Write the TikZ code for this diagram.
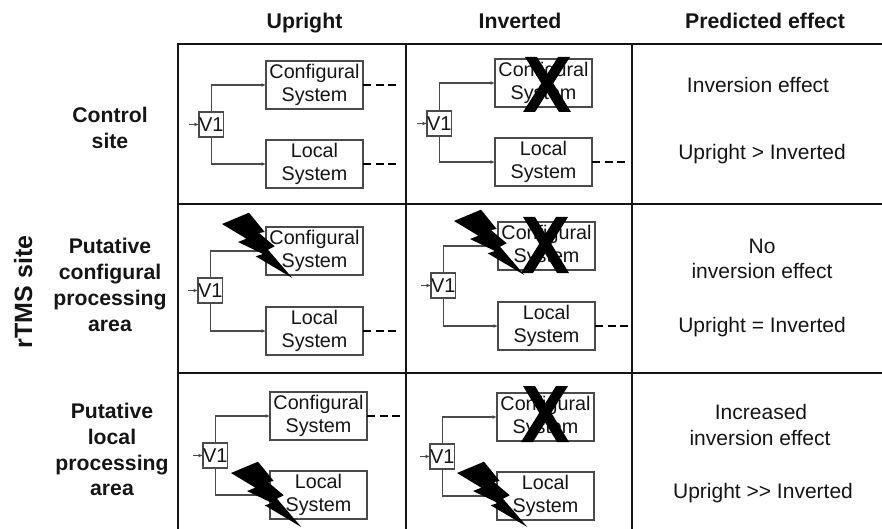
\documentclass[tikz,border=0pt]{standalone}
\usepackage{fontspec}
\setmainfont[Ligatures={NoCommon}]{Liberation Sans}
\definecolor{inkc}{HTML}{151515}
\definecolor{boxc}{HTML}{4A4A4A}
\usetikzlibrary{arrows.meta}
\tikzset{
  grid line/.style={draw=inkc,line width=2pt},
  sysbox/.style={draw=boxc,line width=1.2pt,fill=white,anchor=north west,minimum width=97pt,minimum height=48pt,inner sep=0pt,outer sep=0pt,align=center,text=inkc,font=\fontsize{19.75}{23}\selectfont},
  vbox/.style={draw=boxc,line width=1.2pt,fill=white,anchor=north west,minimum width=23pt,minimum height=25pt,inner sep=0pt,outer sep=0pt,text=inkc,font=\fontsize{20}{22}\selectfont},
  link/.style={draw=boxc,line width=1.1pt,-{Latex[length=4.5pt,width=4pt]}},
  dashline/.style={draw=black,line width=2.3pt,dash pattern=on 8pt off 4.5pt},
  head/.style={anchor=base,text=inkc,font=\bfseries\fontsize{21.3}{24}\selectfont},
  rowlab/.style={anchor=base,text=inkc,font=\bfseries\fontsize{21.2}{24}\selectfont},
  effect/.style={anchor=base,text=inkc,font=\fontsize{21}{24}\selectfont},
  marking/.style={fill=black,draw=none}
}
% id, V1 x, V1 y, system x, configural top, local top
\newcommand{\panel}[6]{
  \node[vbox] (#1v) at (#2,#3) {V1};
  \node[sysbox] (#1c) at (#4,#5) {Configural\\System};
  \node[sysbox] (#1l) at (#4,#6) {Local\\System};
  \coordinate (#1i) at ([xshift=-10pt]#1v.west);
  \coordinate (#1cd) at ([xshift=34pt]#1c.east);
  \coordinate (#1ld) at ([xshift=34pt]#1l.east);
  \draw[link] (#1i) -- (#1v.west);
  \draw[link] (#1v.north) |- (#1c.west);
  \draw[link] (#1v.south) |- (#1l.west);
}
\newcommand{\bolt}[2]{
  \fill[marking,shift={(#1,#2)}] (0,0) -- (27,-11.3) -- (42.7,8) -- (37,9) -- (52.7,22.3) -- (46,25.7) -- (70.3,54) -- (33.7,32.3) -- (41,30) -- (16,18) -- (24.3,14.7) -- cycle;
}
% centre x, top y, bottom y
\newcommand{\cross}[3]{
  \fill[marking] (#1-22,#2) -- (#1-10,#2) -- (#1+24,#3) -- (#1+12,#3) -- cycle;
  \fill[marking] (#1+23,#2) -- (#1+11,#2) -- (#1-24,#3) -- (#1-12,#3) -- cycle;
}
\begin{document}
\begin{tikzpicture}[x=1pt,y=-1pt]
\useasboundingbox (0,0) rectangle (882,529);
% grid
\draw[grid line] (177,44) -- (882,44);
\draw[grid line] (178,204) -- (882,204);
\draw[grid line] (178,372.5) -- (882,372.5);
\draw[grid line] (178,44) -- (178,529);
\draw[grid line] (406,44) -- (406,529);
\draw[grid line] (632,44) -- (632,529);
% headers
\node[head] (hu) at (304.5,29) {Upright};
\node[head] (hi) at (520,29) {Inverted};
\node[head] (hp) at (765,29) {Predicted effect};
% row labels
\node[rowlab] (r1a) at (110,123) {Control};
\node[rowlab] (r1b) at (110,149) {site};
\node[rowlab] (r2a) at (110,253) {Putative};
\node[rowlab] (r2b) at (110,279) {configural};
\node[rowlab] (r2c) at (110,305) {processing};
\node[rowlab] (r2d) at (110,331) {area};
\node[rowlab] (r3a) at (112,418) {Putative};
\node[rowlab] (r3b) at (112,444) {local};
\node[rowlab] (r3c) at (112,470) {processing};
\node[rowlab] (r3d) at (112,495) {area};
\node[anchor=base,rotate=90,text=inkc,font=\bfseries\fontsize{25}{28}\selectfont] (rt) at (32,292) {rTMS site};
% effects
\node[effect] (e1a) at (758,93) {Inversion effect};
\node[effect] (e1b) at (762,160) {Upright > Inverted};
\node[effect] (e2a) at (762,253) {No};
\node[effect] (e2b) at (762,278) {inversion effect};
\node[effect] (e2c) at (762,332) {Upright = Inverted};
\node[effect] (e3a) at (761,419) {Increased};
\node[effect] (e3b) at (760,445) {inversion effect};
\node[effect] (e3c) at (763,498) {Upright {>}{>} Inverted};
% panels
\panel{a}{199}{112}{266}{61}{140}
\panel{b}{427}{111}{495}{59}{138}
\panel{c}{198}{278}{266}{227}{307}
\panel{d}{431}{273}{498}{222}{302}
\panel{e}{203}{443}{270}{392}{471}
\panel{f}{430}{444}{497}{393}{472}
% dashed outputs
\draw[dashline] (ac.east) -- (acd);
\draw[dashline] (al.east) -- (ald);
\draw[dashline] (bl.east) -- (bld);
\draw[dashline] (cl.east) -- (cld);
\draw[dashline] (dl.east) -- (dld);
\draw[dashline] (ec.east) -- (ecd);
% markings
\cross{547}{57}{112}
\cross{545}{217}{273}
\cross{545}{386}{442}
\bolt{222}{224}
\bolt{454}{221}
\bolt{231}{473}
\bolt{457}{473}
\end{tikzpicture}
\end{document}
